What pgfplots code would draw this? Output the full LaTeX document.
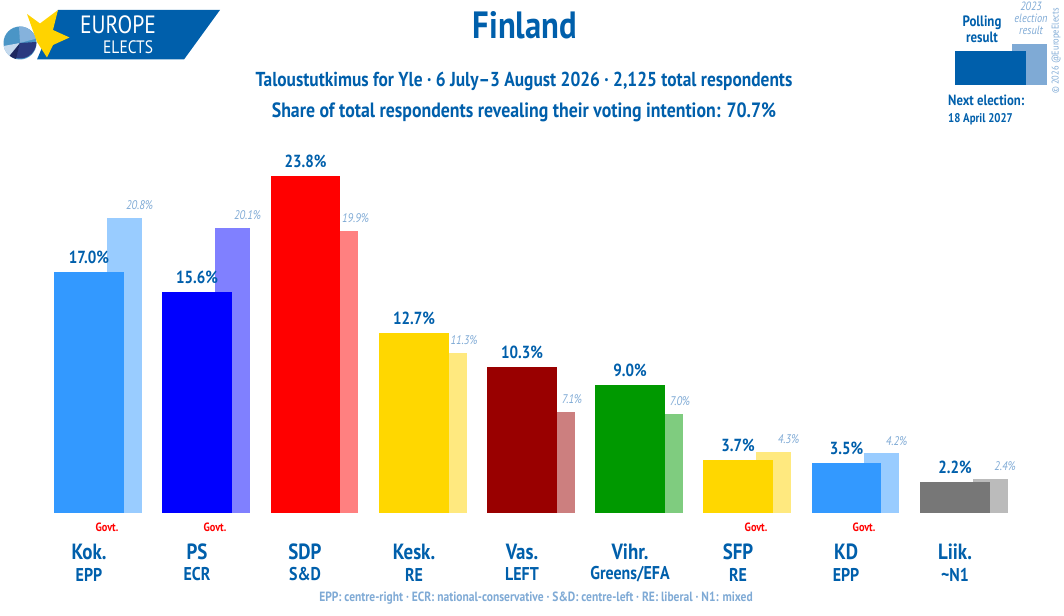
\documentclass[border=0pt]{standalone}
\usepackage{pgfplots}
\pgfplotsset{compat=1.18}
\usepackage{fontspec}
\setmainfont[FakeStretch=0.86]{PT Sans}
\definecolor{eeblue}{HTML}{005FAB}
\definecolor{eelight}{HTML}{7FAAD5}
\definecolor{c1}{HTML}{3399FF}\definecolor{l1}{HTML}{99CCFF}
\definecolor{c2}{HTML}{0000FF}\definecolor{l2}{HTML}{8080FF}
\definecolor{c3}{HTML}{FF0000}\definecolor{l3}{HTML}{FF8080}
\definecolor{c4}{HTML}{FFD700}\definecolor{l4}{HTML}{FFE97F}
\definecolor{c5}{HTML}{990000}\definecolor{l5}{HTML}{CC7F7F}
\definecolor{c6}{HTML}{009900}\definecolor{l6}{HTML}{7FCC7F}
\definecolor{c7}{HTML}{777777}\definecolor{l7}{HTML}{BBBBBB}
\definecolor{p1}{HTML}{4A95C6}\definecolor{p2}{HTML}{85B2DC}
\definecolor{p3}{HTML}{C5DAEE}\definecolor{p4}{HTML}{2A3A80}
\definecolor{p5}{HTML}{1C2860}
\newcommand{\fs}[1]{\fontsize{#1}{#1}\selectfont}
\pgfplotsset{
  el/.style={ybar, bar shift=0pt, bar width=35pt, draw=none, fill=#1,
    nodes near coords={\pgfmathprintnumber[fixed,fixed zerofill,precision=1,assume math mode=true]{\pgfplotspointmeta}\%},
    every node near coord/.append style={font=\fs{12.5}\itshape, text=eelight, xshift=15pt, inner sep=1pt, yshift=7pt, anchor=south}},
  po/.style={ybar, bar shift=0pt, bar width=69.5pt, draw=none, fill=#1,
    nodes near coords={\pgfmathprintnumber[fixed,fixed zerofill,precision=1,assume math mode=true]{\pgfplotspointmeta}\%},
    every node near coord/.append style={font=\fs{17.5}\bfseries, text=eeblue, inner sep=1pt, yshift=7pt, anchor=south}},
}
\begin{document}
\begin{tikzpicture}
\begin{axis}[at={(0pt,0pt)}, anchor=south west, scale only axis, width=1064pt, height=615pt,
  axis lines=none, xmin=0, xmax=1064, ymin=-7.215, ymax=36.215, clip=false, xtick=\empty, ytick=\empty]
% 2023 election results
\addplot[el=l1] coordinates {(124.5,20.8)};
\addplot[el=l2] coordinates {(232.5,20.1)};
\addplot[el=l3] coordinates {(340.5,19.9)};
\addplot[el=l4] coordinates {(449,11.3)};
\addplot[el=l5] coordinates {(557,7.1)};
\addplot[el=l6] coordinates {(665,7.0)};
\addplot[el=l4] coordinates {(773.5,4.3)};
\addplot[el=l1] coordinates {(881.5,4.2)};
\addplot[el=l7] coordinates {(990,2.4)};
% polling results
\addplot[po=c1] coordinates {(89,17.0)};
\addplot[po=c2] coordinates {(197,15.6)};
\addplot[po=c3] coordinates {(305.5,23.8)};
\addplot[po=c4] coordinates {(414,12.7)};
\addplot[po=c5] coordinates {(522,10.3)};
\addplot[po=c6] coordinates {(630,9.0)};
\addplot[po=c4] coordinates {(738,3.7)};
\addplot[po=c1] coordinates {(846.5,3.5)};
\addplot[po=c7] coordinates {(955,2.2)};
\end{axis}
\begin{scope}[shift={(0pt,615pt)}, x=1pt, y=-1pt]
\useasboundingbox (0,0) rectangle (1064,615);
\node[text=eeblue,font=\fs{38}\bfseries] at (525,25.5) {Finland};
\node[text=eeblue,font=\fs{20.2}\bfseries] at (524,81) {Taloustutkimus for Yle · 6 July–3 August 2026 · 2,125 total respondents};
\node[text=eeblue,font=\fs{20.7}\bfseries] at (524,112.5) {Share of total respondents revealing their voting intention: 70.7\%};
% party labels
\foreach \x/\n/\g in {89/Kok./EPP,197/PS/ECR,305/SDP/S\&D,414/Kesk./RE,522/Vas./LEFT,630/Vihr./Greens\slash EFA,738/SFP/RE,846/KD/EPP,955/Liik./\textasciitilde N1}{
  \node[text=eeblue,font=\fs{22}\bfseries] at (\x,552) {\n};
  \node[text=eeblue,font=\fs{18.5}\bfseries] at (\x,574.5) {\g};
}
\foreach \x in {107,215,756,864}{\node[text=red,font=\fs{12}\bfseries] at (\x,527) {Govt.};}
\node[text=eelight,font=\fs{13.4}\bfseries] at (536,598) {EPP: centre-right · ECR: national-conservative · S\&D: centre-left · RE: liberal · N1: mixed};
% key
\fill[eelight] (1012,44) rectangle (1047,85);
\fill[eeblue] (955,51) rectangle (1026,85);
\node[text=eeblue,font=\fs{15}\bfseries,align=center] at (982,29) {Polling\\[1pt]result};
\node[text=eelight,font=\fs{12}\itshape,align=center] at (1031,18.5) {2023\\[0pt]election\\[0pt]result};
\node[text=eeblue,font=\fs{14.8}\bfseries,anchor=west,inner sep=0pt] at (948,100.5) {Next election:};
\node[text=eeblue,font=\fs{12.6}\bfseries,anchor=west,inner sep=0pt] at (948,119) {18 April 2027};
\node[text=eelight,font=\fs{9.8},rotate=90] at (1056,51) {© 2026 @EuropeElects};
% logo
\fill[eeblue] (58,10) -- (220,10) -- (184,59.5) -- (37,59.5) -- cycle;
\fill[p1] (20,43) circle (16.5);
\fill[p2] (20,43) -- (19,26.5) arc (-93:-15:16.5) -- cycle;
\fill[p3] (20,43) -- (3.7,46) arc (170:125:16.5) -- cycle;
\fill[p4] (20,43) -- (36.5,42) arc (0:105:16.5) -- cycle;
\fill[p5] (20,43) -- (16,59) arc (105:130:16.5) -- cycle;
\fill[c4!95!orange] (58,10) -- (53,30) -- (69.5,37.5) -- (53,45) -- (47,57.5) -- (37,42) -- (27,14) -- (40,23.5) -- cycle;
\node[text=white,font=\fs{25},anchor=west,inner sep=0pt] at (80,25) {EUROPE};
\node[text=white,font=\fs{18},anchor=west,inner sep=0pt] at (103,47) {ELECTS};
\end{scope}
\end{tikzpicture}
\end{document}
